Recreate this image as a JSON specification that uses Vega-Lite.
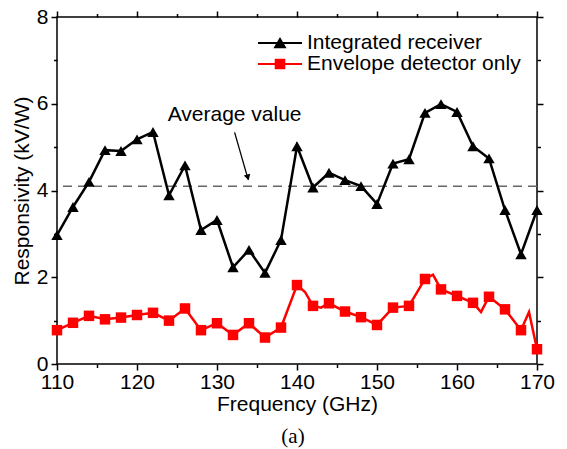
{
  "$schema": "https://vega.github.io/schema/vega-lite/v6.json",
  "width": 480,
  "height": 347,
  "autosize": {"type": "none"},
  "padding": {"left": 57, "top": 17, "right": 30, "bottom": 85},
  "background": "white",
  "config": {
    "view": {"stroke": "black", "strokeWidth": 1.5},
    "font": "Liberation Sans",
    "axis": {"labelFont": "Liberation Sans", "titleFont": "Liberation Sans", "labelColor": "black", "titleColor": "black", "labelFontSize": 21, "titleFontSize": 21, "titleFontWeight": "normal", "labelFlush": false}
  },
  "title": {"text": "(a)", "orient": "bottom", "font": "Liberation Serif", "fontSize": 21, "fontWeight": "normal", "anchor": "middle", "offset": 12, "color": "black", "dx": -4},
  "datasets": {
    "black": [
      {"f": 110, "v": 2.97, "s": "Integrated receiver"},
      {"f": 112, "v": 3.62, "s": "Integrated receiver"},
      {"f": 114, "v": 4.2, "s": "Integrated receiver"},
      {"f": 116, "v": 4.93, "s": "Integrated receiver"},
      {"f": 118, "v": 4.91, "s": "Integrated receiver"},
      {"f": 120, "v": 5.18, "s": "Integrated receiver"},
      {"f": 122, "v": 5.35, "s": "Integrated receiver"},
      {"f": 124, "v": 3.89, "s": "Integrated receiver"},
      {"f": 126, "v": 4.58, "s": "Integrated receiver"},
      {"f": 128, "v": 3.09, "s": "Integrated receiver"},
      {"f": 130, "v": 3.32, "s": "Integrated receiver"},
      {"f": 132, "v": 2.23, "s": "Integrated receiver"},
      {"f": 134, "v": 2.63, "s": "Integrated receiver"},
      {"f": 136, "v": 2.1, "s": "Integrated receiver"},
      {"f": 138, "v": 2.86, "s": "Integrated receiver"},
      {"f": 140, "v": 5.02, "s": "Integrated receiver"},
      {"f": 142, "v": 4.07, "s": "Integrated receiver"},
      {"f": 144, "v": 4.41, "s": "Integrated receiver"},
      {"f": 146, "v": 4.24, "s": "Integrated receiver"},
      {"f": 148, "v": 4.1, "s": "Integrated receiver"},
      {"f": 150, "v": 3.69, "s": "Integrated receiver"},
      {"f": 152, "v": 4.62, "s": "Integrated receiver"},
      {"f": 154, "v": 4.72, "s": "Integrated receiver"},
      {"f": 156, "v": 5.79, "s": "Integrated receiver"},
      {"f": 158, "v": 5.99, "s": "Integrated receiver"},
      {"f": 160, "v": 5.81, "s": "Integrated receiver"},
      {"f": 162, "v": 5.02, "s": "Integrated receiver"},
      {"f": 164, "v": 4.74, "s": "Integrated receiver"},
      {"f": 166, "v": 3.55, "s": "Integrated receiver"},
      {"f": 168, "v": 2.53, "s": "Integrated receiver"},
      {"f": 170, "v": 3.55, "s": "Integrated receiver"}
    ],
    "red": [
      {"f": 110, "v": 0.78, "s": "Envelope detector only", "m": 1},
      {"f": 112, "v": 0.95, "s": "Envelope detector only", "m": 1},
      {"f": 114, "v": 1.11, "s": "Envelope detector only", "m": 1},
      {"f": 116, "v": 1.03, "s": "Envelope detector only", "m": 1},
      {"f": 118, "v": 1.07, "s": "Envelope detector only", "m": 1},
      {"f": 120, "v": 1.13, "s": "Envelope detector only", "m": 1},
      {"f": 122, "v": 1.18, "s": "Envelope detector only", "m": 1},
      {"f": 124, "v": 1.0, "s": "Envelope detector only", "m": 1},
      {"f": 126, "v": 1.28, "s": "Envelope detector only", "m": 1},
      {"f": 128, "v": 0.78, "s": "Envelope detector only", "m": 1},
      {"f": 130, "v": 0.94, "s": "Envelope detector only", "m": 1},
      {"f": 132, "v": 0.67, "s": "Envelope detector only", "m": 1},
      {"f": 134, "v": 0.94, "s": "Envelope detector only", "m": 1},
      {"f": 136, "v": 0.61, "s": "Envelope detector only", "m": 1},
      {"f": 138, "v": 0.84, "s": "Envelope detector only", "m": 1},
      {"f": 140, "v": 1.82, "s": "Envelope detector only", "m": 1},
      {"f": 141, "v": 1.66, "s": "Envelope detector only", "m": 0},
      {"f": 142, "v": 1.34, "s": "Envelope detector only", "m": 1},
      {"f": 143, "v": 1.3, "s": "Envelope detector only", "m": 0},
      {"f": 144, "v": 1.4, "s": "Envelope detector only", "m": 1},
      {"f": 146, "v": 1.21, "s": "Envelope detector only", "m": 1},
      {"f": 148, "v": 1.08, "s": "Envelope detector only", "m": 1},
      {"f": 150, "v": 0.9, "s": "Envelope detector only", "m": 1},
      {"f": 152, "v": 1.3, "s": "Envelope detector only", "m": 1},
      {"f": 154, "v": 1.34, "s": "Envelope detector only", "m": 1},
      {"f": 156, "v": 1.96, "s": "Envelope detector only", "m": 1},
      {"f": 157, "v": 2.06, "s": "Envelope detector only", "m": 0},
      {"f": 158, "v": 1.72, "s": "Envelope detector only", "m": 1},
      {"f": 160, "v": 1.57, "s": "Envelope detector only", "m": 1},
      {"f": 162, "v": 1.41, "s": "Envelope detector only", "m": 1},
      {"f": 163, "v": 1.2, "s": "Envelope detector only", "m": 0},
      {"f": 164, "v": 1.55, "s": "Envelope detector only", "m": 1},
      {"f": 166, "v": 1.26, "s": "Envelope detector only", "m": 1},
      {"f": 167, "v": 1.02, "s": "Envelope detector only", "m": 0},
      {"f": 168, "v": 0.78, "s": "Envelope detector only", "m": 1},
      {"f": 169, "v": 1.2, "s": "Envelope detector only", "m": 0},
      {"f": 170, "v": 0.34, "s": "Envelope detector only", "m": 1}
    ]
  },
  "layer": [
    {
      "data": {"values": [{"v": 4.1}]},
      "mark": {"type": "rule", "color": "#666666", "strokeDash": [9, 6], "strokeWidth": 1.5},
      "encoding": {
        "y": {"field": "v", "type": "quantitative", "scale": {"domain": [0, 8], "nice": false}, "axis": null}
      }
    },
    {
      "data": {"name": "red"},
      "mark": {"type": "line", "strokeWidth": 2.5, "color": "red"},
      "encoding": {
        "x": {"field": "f", "type": "quantitative", "scale": {"domain": [110, 170], "nice": false, "zero": false},
              "axis": {"orient": "bottom", "values": [110, 120, 130, 140, 150, 160, 170], "labels": false, "title": null, "domain": false, "grid": false, "ticks": true, "tickSize": 6, "tickColor": "black", "tickWidth": 1.5, "tickOpacity": 1}},
        "y": {"field": "v", "type": "quantitative", "scale": {"domain": [0, 8], "nice": false},
              "axis": {"orient": "left", "values": [0, 2, 4, 6, 8], "labels": false, "title": null, "domain": false, "grid": false, "ticks": true, "tickSize": 6, "tickColor": "black", "tickWidth": 1.5, "tickOpacity": 1}}
      }
    },
    {
      "data": {"name": "red"},
      "transform": [{"filter": "datum.m == 1"}],
      "mark": {"type": "point", "shape": "square", "filled": true, "size": 110, "opacity": 1, "color": "red"},
      "encoding": {
        "x": {"field": "f", "type": "quantitative", "scale": {"domain": [110, 170], "nice": false, "zero": false},
              "axis": {"orient": "bottom", "values": [115, 125, 135, 145, 155, 165], "labels": false, "title": null, "domain": false, "grid": false, "ticks": true, "tickSize": 3.5, "tickColor": "black", "tickWidth": 1.5, "tickOpacity": 1}},
        "y": {"field": "v", "type": "quantitative", "scale": {"domain": [0, 8], "nice": false},
              "axis": {"orient": "left", "values": [1, 3, 5, 7], "labels": false, "title": null, "domain": false, "grid": false, "ticks": true, "tickSize": 3.5, "tickColor": "black", "tickWidth": 1.5, "tickOpacity": 1}}
      }
    },
    {
      "data": {"name": "black"},
      "mark": {"type": "line", "strokeWidth": 2.5},
      "encoding": {
        "x": {"field": "f", "type": "quantitative", "scale": {"domain": [110, 170], "nice": false, "zero": false},
              "axis": {"orient": "bottom", "values": [110, 120, 130, 140, 150, 160, 170], "ticks": false, "domain": false, "grid": false, "labelPadding": 7, "title": "Frequency (GHz)", "titlePadding": 1}},
        "y": {"field": "v", "type": "quantitative", "scale": {"domain": [0, 8], "nice": false},
              "axis": {"orient": "left", "values": [0, 2, 4, 6, 8], "ticks": false, "domain": false, "grid": false, "labelPadding": 9, "title": "Responsivity (kV/W)", "titlePadding": 4}},
        "color": {"field": "s", "type": "nominal", "scale": {"domain": ["Integrated receiver", "Envelope detector only"], "range": ["black", "red"]},
                  "legend": {"orient": "none", "legendX": 201, "legendY": 16, "title": null, "padding": 0, "rowPadding": 0, "clipHeight": 20,
                             "symbolSize": 1936, "symbolStrokeWidth": 0, "labelOffset": 5, "labelFontSize": 21, "labelFont": "Liberation Sans", "labelColor": "black", "labelLimit": 400,
                             "encoding": {"symbols": {
                               "shape": {"condition": {"test": "datum.value === 'Integrated receiver'", "value": "M-1,-0.05H1V0.05H-1Z M0,-0.27L0.3,0.24L-0.3,0.24Z"}, "value": "M-1,-0.05H1V0.05H-1Z M-0.24,-0.24H0.24V0.24H-0.24Z"},
                               "fill": {"condition": {"test": "datum.value === 'Integrated receiver'", "value": "black"}, "value": "red"},
                               "stroke": {"value": "transparent"},
                               "opacity": {"value": 1}
                             }}}}
      }
    },
    {
      "data": {"name": "black"},
      "mark": {"type": "point", "shape": "triangle-up", "filled": true, "size": 130, "opacity": 1, "color": "black"},
      "encoding": {
        "x": {"field": "f", "type": "quantitative", "scale": {"domain": [110, 170], "nice": false, "zero": false},
              "axis": {"orient": "top", "values": [110, 120, 130, 140, 150, 160, 170], "labels": false, "title": null, "domain": false, "grid": false, "ticks": true, "tickSize": 6, "tickColor": "black", "tickWidth": 1.5, "tickOpacity": 1}},
        "y": {"field": "v", "type": "quantitative", "scale": {"domain": [0, 8], "nice": false},
              "axis": {"orient": "right", "values": [0, 2, 4, 6, 8], "labels": false, "title": null, "domain": false, "grid": false, "ticks": true, "tickSize": 6, "tickColor": "black", "tickWidth": 1.5, "tickOpacity": 1}}
      }
    },
    {
      "data": {"values": [{"f": 132.2, "v": 5.6, "t": "Average value"}]},
      "mark": {"type": "text", "fontSize": 21, "font": "Liberation Sans", "align": "center", "baseline": "alphabetic", "color": "black"},
      "encoding": {
        "x": {"field": "f", "type": "quantitative", "scale": {"domain": [110, 170], "nice": false, "zero": false},
              "axis": {"orient": "top", "values": [115, 125, 135, 145, 155, 165], "labels": false, "title": null, "domain": false, "grid": false, "ticks": true, "tickSize": 3.5, "tickColor": "black", "tickWidth": 1.5, "tickOpacity": 1}},
        "y": {"field": "v", "type": "quantitative", "scale": {"domain": [0, 8], "nice": false},
              "axis": {"orient": "right", "values": [1, 3, 5, 7], "labels": false, "title": null, "domain": false, "grid": false, "ticks": true, "tickSize": 3.5, "tickColor": "black", "tickWidth": 1.5, "tickOpacity": 1}},
        "text": {"field": "t"}
      }
    },
    {
      "data": {"values": [{"f": 132.2, "v": 5.34, "f2": 133.9, "v2": 4.25}]},
      "mark": {"type": "rule", "color": "black", "strokeWidth": 1.3},
      "encoding": {
        "x": {"field": "f", "type": "quantitative", "scale": {"domain": [110, 170], "nice": false, "zero": false}, "axis": null},
        "y": {"field": "v", "type": "quantitative", "scale": {"domain": [0, 8], "nice": false}, "axis": null},
        "x2": {"field": "f2"},
        "y2": {"field": "v2"}
      }
    },
    {
      "data": {"values": [{"f": 133.85, "v": 4.3}]},
      "mark": {"type": "point", "shape": "triangle-down", "filled": true, "size": 45, "color": "black", "opacity": 1, "angle": 344},
      "encoding": {
        "x": {"field": "f", "type": "quantitative", "scale": {"domain": [110, 170], "nice": false, "zero": false}, "axis": null},
        "y": {"field": "v", "type": "quantitative", "scale": {"domain": [0, 8], "nice": false}, "axis": null}
      }
    }
  ],
  "resolve": {"axis": {"x": "independent", "y": "independent"}}
}
